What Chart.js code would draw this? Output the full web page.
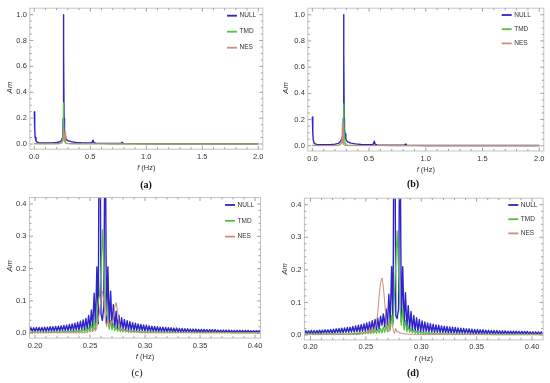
<!DOCTYPE html>
<html>
<head>
<meta charset="utf-8">
<script src="https://cdn.jsdelivr.net/npm/chart.js@4.4.0/dist/chart.umd.min.js"></script>
<style>
  body { margin: 0; background: #fff; width: 550px; height: 383px; position: relative; overflow: hidden; }
  canvas { position: absolute; }
  .cap { position: absolute; font-family: "Liberation Serif", "Times New Roman", serif; font-size: 10px;
         line-height: 10px; font-weight: bold; color: #111; transform: translateX(-50%); }
</style>
</head>
<body>
<canvas id="pa" width="275" height="190" style="left:0;top:0"></canvas>
<canvas id="pb" width="275" height="190" style="left:275px;top:0"></canvas>
<canvas id="pc" width="275" height="193" style="left:0;top:190px"></canvas>
<canvas id="pd" width="275" height="193" style="left:275px;top:190px"></canvas>
<div class="cap" style="left:146px;top:180px">(a)</div>
<div class="cap" style="left:413px;top:179px">(b)</div>
<div class="cap" style="left:137px;top:368px;font-weight:normal">(c)</div>
<div class="cap" style="left:413px;top:368px">(d)</div>
<script>
const seriesNames = ["NULL", "TMD", "NES"];
const seriesColors = ["#2e24c8", "#52c23a", "#cc8d7c"];
const seriesWidths = [1.4, 1.2, 1.0];
const yTitle = "Am";
const xTitleVar = "f", xTitleUnit = " (Hz)";

// (a) whole spectrum, case 1
const freqA = [0, 0.004, 0.008, 0.015, 0.025, 0.04, 0.08, 0.12, 0.16, 0.2,
  0.23, 0.245, 0.252, 0.256, 0.2585, 0.2605, 0.263, 0.266, 0.27, 0.275,
  0.28, 0.29, 0.3, 0.33, 0.37, 0.42, 0.47, 0.5, 0.515, 0.524,
  0.532, 0.55, 0.6, 0.7, 0.77, 0.785, 0.795, 0.9, 1.0, 1.5, 2.0];
const nullA = [0.25, 0.12, 0.05, 0.025, 0.015, 0.01, 0.008, 0.008, 0.009, 0.012,
  0.018, 0.03, 0.05, 0.1, 0.2, 1.0, 0.72, 0.2, 0.09, 0.06,
  0.045, 0.032, 0.025, 0.018, 0.013, 0.01, 0.008, 0.009, 0.012, 0.03,
  0.01, 0.006, 0.005, 0.004, 0.004, 0.014, 0.004, 0.003, 0.002, 0.002, 0.002];
const tmdA = [0.004, 0.003, 0.003, 0.003, 0.002, 0.002, 0.002, 0.002, 0.002, 0.003,
  0.004, 0.012, 0.03, 0.06, 0.12, 0.32, 0.2, 0.06, 0.025, 0.012,
  0.007, 0.005, 0.004, 0.003, 0.003, 0.002, 0.002, 0.002, 0.002, 0.002,
  0.002, 0.002, 0.002, 0.001, 0.001, 0.001, 0.001, 0.001, 0.001, 0.001, 0.001];
const nesA = [0.002, 0.002, 0.001, 0.001, 0.001, 0.001, 0.001, 0.001, 0.001, 0.001,
  0.002, 0.006, 0.02, 0.04, 0.07, 0.13, 0.1, 0.04, 0.06, 0.095,
  0.012, 0.004, 0.002, 0.002, 0.001, 0.001, 0.001, 0.001, 0.001, 0.001,
  0.001, 0.001, 0.001, 0.001, 0.001, 0.001, 0.001, 0.001, 0.001, 0.001, 0.001];

// (b) whole spectrum, case 2
const freqB = [0, 0.004, 0.008, 0.015, 0.025, 0.04, 0.08, 0.12, 0.16, 0.2,
  0.23, 0.25, 0.26, 0.265, 0.27, 0.2735, 0.2758, 0.278, 0.2808, 0.2835,
  0.288, 0.295, 0.31, 0.34, 0.38, 0.43, 0.48, 0.52, 0.538, 0.546,
  0.553, 0.57, 0.62, 0.7, 0.81, 0.823, 0.832, 0.9, 1.0, 1.5, 2.0];
const nullB = [0.22, 0.1, 0.045, 0.022, 0.014, 0.01, 0.008, 0.008, 0.009, 0.012,
  0.018, 0.035, 0.055, 0.07, 0.1, 0.21, 1.0, 0.7, 0.21, 0.13,
  0.09, 0.05, 0.03, 0.02, 0.014, 0.01, 0.008, 0.008, 0.012, 0.035,
  0.012, 0.006, 0.005, 0.004, 0.004, 0.013, 0.004, 0.003, 0.002, 0.002, 0.002];
const tmdB = [0.004, 0.003, 0.003, 0.003, 0.002, 0.002, 0.002, 0.002, 0.002, 0.003,
  0.004, 0.012, 0.02, 0.025, 0.03, 0.06, 0.12, 0.32, 0.09, 0.08,
  0.02, 0.008, 0.005, 0.004, 0.003, 0.002, 0.002, 0.002, 0.002, 0.002,
  0.002, 0.002, 0.002, 0.001, 0.001, 0.001, 0.001, 0.001, 0.001, 0.001, 0.001];
const nesB = [0.002, 0.002, 0.001, 0.001, 0.001, 0.001, 0.001, 0.001, 0.001, 0.001,
  0.002, 0.01, 0.03, 0.175, 0.02, 0.04, 0.005, 0.01, 0.004, 0.003,
  0.002, 0.002, 0.001, 0.001, 0.001, 0.001, 0.001, 0.001, 0.001, 0.001,
  0.001, 0.001, 0.001, 0.001, 0.001, 0.001, 0.001, 0.001, 0.001, 0.001, 0.001];

// (c), (d) zoom on the main peak, one value per FFT bin
const binStep = 0.00125;
const binStartC = 0.195;
const binStartD = 0.1945;

const nullC = [
  0.006, 0.017, 0.006, 0.017, 0.006, 0.018, 0.006, 0.018, 0.006, 0.018,
  0.006, 0.019, 0.006, 0.019, 0.007, 0.020, 0.007, 0.020, 0.007, 0.021,
  0.007, 0.022, 0.007, 0.023, 0.008, 0.024, 0.008, 0.025, 0.008, 0.027,
  0.009, 0.029, 0.009, 0.031, 0.010, 0.034, 0.010, 0.037, 0.011, 0.041,
  0.012, 0.046, 0.013, 0.055, 0.015, 0.072, 0.018, 0.124, 0.022, 0.205,
  0.030, 1.000, 0.060, 0.040, 0.080, 0.720, 0.030, 0.205, 0.022, 0.130,
  0.018, 0.088, 0.016, 0.068, 0.014, 0.056, 0.013, 0.048, 0.012, 0.043,
  0.011, 0.039, 0.010, 0.036, 0.010, 0.033, 0.009, 0.031, 0.009, 0.029,
  0.008, 0.027, 0.008, 0.026, 0.007, 0.025, 0.007, 0.023, 0.006, 0.022,
  0.006, 0.021, 0.006, 0.020, 0.005, 0.019, 0.005, 0.019, 0.005, 0.018,
  0.005, 0.017, 0.005, 0.017, 0.004, 0.016, 0.004, 0.016, 0.004, 0.015,
  0.004, 0.015, 0.004, 0.014, 0.004, 0.014, 0.004, 0.013, 0.003, 0.013,
  0.003, 0.013, 0.003, 0.012, 0.003, 0.012, 0.003, 0.012, 0.003, 0.011,
  0.003, 0.011, 0.003, 0.011, 0.003, 0.011, 0.003, 0.010, 0.003, 0.010,
  0.003, 0.010, 0.003, 0.010, 0.003, 0.010, 0.003, 0.009, 0.003, 0.009,
  0.003, 0.009, 0.003, 0.009, 0.003, 0.009, 0.003, 0.009, 0.003, 0.009,
  0.003, 0.008, 0.003, 0.008, 0.003, 0.008, 0.003, 0.008, 0.003];
const tmdC = [
  0.002, 0.004, 0.002, 0.004, 0.002, 0.004, 0.002, 0.004, 0.002, 0.004,
  0.002, 0.004, 0.002, 0.004, 0.002, 0.005, 0.002, 0.005, 0.002, 0.005,
  0.002, 0.005, 0.002, 0.005, 0.003, 0.006, 0.003, 0.006, 0.003, 0.006,
  0.003, 0.007, 0.003, 0.007, 0.003, 0.008, 0.003, 0.009, 0.004, 0.011,
  0.004, 0.014, 0.005, 0.018, 0.006, 0.026, 0.008, 0.040, 0.012, 0.060,
  0.100, 0.120, 0.200, 0.320, 0.200, 0.130, 0.060, 0.045, 0.012, 0.040,
  0.010, 0.030, 0.008, 0.022, 0.006, 0.017, 0.005, 0.013, 0.004, 0.011,
  0.004, 0.009, 0.003, 0.008, 0.003, 0.007, 0.003, 0.007, 0.003, 0.006,
  0.003, 0.006, 0.002, 0.006, 0.002, 0.005, 0.002, 0.005, 0.002, 0.005,
  0.002, 0.005, 0.002, 0.004, 0.002, 0.004, 0.002, 0.004, 0.002, 0.004,
  0.002, 0.004, 0.002, 0.004, 0.002, 0.004, 0.002, 0.003, 0.002, 0.003,
  0.002, 0.003, 0.002, 0.003, 0.002, 0.003, 0.002, 0.003, 0.002, 0.003,
  0.001, 0.003, 0.001, 0.003, 0.001, 0.003, 0.001, 0.003, 0.001, 0.003,
  0.001, 0.003, 0.001, 0.003, 0.001, 0.003, 0.001, 0.003, 0.001, 0.003,
  0.001, 0.003, 0.001, 0.003, 0.001, 0.003, 0.001, 0.002, 0.001, 0.002,
  0.001, 0.002, 0.001, 0.002, 0.001, 0.002, 0.001, 0.002, 0.001, 0.002,
  0.001, 0.002, 0.001, 0.002, 0.001, 0.002, 0.001, 0.002, 0.001];
const nesC = [
  0.001, 0.002, 0.001, 0.002, 0.001, 0.002, 0.001, 0.002, 0.001, 0.002,
  0.001, 0.002, 0.001, 0.002, 0.001, 0.002, 0.001, 0.002, 0.001, 0.002,
  0.001, 0.002, 0.001, 0.002, 0.001, 0.002, 0.001, 0.002, 0.001, 0.002,
  0.001, 0.002, 0.001, 0.002, 0.001, 0.002, 0.001, 0.002, 0.001, 0.002,
  0.001, 0.004, 0.002, 0.006, 0.003, 0.010, 0.004, 0.018, 0.006, 0.020,
  0.040, 0.070, 0.110, 0.130, 0.100, 0.050, 0.020, 0.040, 0.020, 0.040,
  0.030, 0.050, 0.080, 0.095, 0.070, 0.035, 0.012, 0.020, 0.006, 0.012,
  0.004, 0.008, 0.003, 0.006, 0.002, 0.005, 0.002, 0.004, 0.002, 0.004,
  0.001, 0.002, 0.001, 0.002, 0.001, 0.002, 0.001, 0.002, 0.001, 0.002,
  0.001, 0.002, 0.001, 0.002, 0.001, 0.002, 0.001, 0.002, 0.001, 0.002,
  0.001, 0.002, 0.001, 0.002, 0.001, 0.002, 0.001, 0.002, 0.001, 0.002,
  0.001, 0.002, 0.001, 0.002, 0.001, 0.002, 0.001, 0.002, 0.001, 0.002,
  0.001, 0.002, 0.001, 0.002, 0.001, 0.002, 0.001, 0.002, 0.001, 0.002,
  0.001, 0.002, 0.001, 0.002, 0.001, 0.002, 0.001, 0.002, 0.001, 0.002,
  0.001, 0.002, 0.001, 0.002, 0.001, 0.002, 0.001, 0.002, 0.001, 0.002,
  0.001, 0.002, 0.001, 0.002, 0.001, 0.002, 0.001, 0.002, 0.001, 0.002,
  0.001, 0.002, 0.001, 0.002, 0.001, 0.002, 0.001, 0.002, 0.001];

const nullD = [
  0.005, 0.013, 0.005, 0.013, 0.005, 0.014, 0.005, 0.014, 0.005, 0.014,
  0.005, 0.015, 0.005, 0.015, 0.006, 0.016, 0.006, 0.016, 0.006, 0.017,
  0.006, 0.018, 0.006, 0.019, 0.007, 0.020, 0.007, 0.021, 0.007, 0.022,
  0.008, 0.023, 0.008, 0.024, 0.009, 0.026, 0.009, 0.028, 0.010, 0.030,
  0.010, 0.032, 0.011, 0.034, 0.012, 0.037, 0.013, 0.040, 0.014, 0.044,
  0.015, 0.048, 0.016, 0.052, 0.018, 0.058, 0.030, 0.065, 0.025, 0.080,
  0.030, 0.125, 0.035, 0.210, 0.040, 1.000, 0.060, 0.050, 0.080, 0.700,
  0.040, 0.210, 0.030, 0.130, 0.022, 0.090, 0.018, 0.072, 0.015, 0.060,
  0.013, 0.053, 0.012, 0.048, 0.011, 0.043, 0.010, 0.040, 0.010, 0.037,
  0.009, 0.035, 0.009, 0.033, 0.008, 0.031, 0.008, 0.030, 0.007, 0.028,
  0.007, 0.027, 0.007, 0.026, 0.006, 0.025, 0.006, 0.024, 0.006, 0.023,
  0.005, 0.022, 0.005, 0.021, 0.005, 0.020, 0.005, 0.019, 0.005, 0.019,
  0.004, 0.018, 0.004, 0.017, 0.004, 0.017, 0.004, 0.016, 0.004, 0.016,
  0.004, 0.015, 0.004, 0.015, 0.004, 0.014, 0.003, 0.014, 0.003, 0.014,
  0.003, 0.013, 0.003, 0.013, 0.003, 0.013, 0.003, 0.012, 0.003, 0.012,
  0.003, 0.012, 0.003, 0.012, 0.003, 0.011, 0.003, 0.011, 0.003, 0.011,
  0.003, 0.011, 0.003, 0.010, 0.003, 0.010, 0.003, 0.010, 0.003, 0.010,
  0.003, 0.010, 0.003];
const tmdD = [
  0.002, 0.004, 0.002, 0.004, 0.002, 0.004, 0.002, 0.004, 0.002, 0.004,
  0.002, 0.004, 0.002, 0.004, 0.002, 0.004, 0.002, 0.004, 0.002, 0.004,
  0.002, 0.004, 0.002, 0.004, 0.002, 0.004, 0.002, 0.004, 0.002, 0.004,
  0.002, 0.004, 0.002, 0.005, 0.002, 0.005, 0.003, 0.006, 0.003, 0.007,
  0.003, 0.008, 0.003, 0.009, 0.004, 0.010, 0.004, 0.012, 0.004, 0.014,
  0.005, 0.016, 0.005, 0.018, 0.006, 0.020, 0.006, 0.025, 0.008, 0.030,
  0.010, 0.040, 0.015, 0.060, 0.030, 0.120, 0.220, 0.320, 0.200, 0.090,
  0.030, 0.080, 0.015, 0.045, 0.010, 0.028, 0.008, 0.020, 0.006, 0.015,
  0.005, 0.012, 0.004, 0.010, 0.004, 0.009, 0.003, 0.008, 0.003, 0.007,
  0.003, 0.006, 0.002, 0.006, 0.002, 0.005, 0.002, 0.005, 0.002, 0.005,
  0.002, 0.004, 0.002, 0.004, 0.002, 0.004, 0.002, 0.004, 0.002, 0.004,
  0.002, 0.003, 0.002, 0.003, 0.002, 0.003, 0.002, 0.003, 0.002, 0.003,
  0.001, 0.003, 0.001, 0.003, 0.001, 0.003, 0.001, 0.003, 0.001, 0.003,
  0.001, 0.003, 0.001, 0.003, 0.001, 0.002, 0.001, 0.002, 0.001, 0.002,
  0.001, 0.002, 0.001, 0.002, 0.001, 0.002, 0.001, 0.002, 0.001, 0.002,
  0.001, 0.002, 0.001, 0.002, 0.001, 0.002, 0.001, 0.002, 0.001, 0.002,
  0.001, 0.002, 0.001, 0.002, 0.001, 0.002, 0.001, 0.002, 0.001, 0.002,
  0.001, 0.002, 0.001];
const nesD = [
  0.001, 0.002, 0.001, 0.002, 0.001, 0.002, 0.001, 0.002, 0.001, 0.002,
  0.001, 0.002, 0.001, 0.002, 0.001, 0.002, 0.001, 0.002, 0.001, 0.002,
  0.001, 0.002, 0.001, 0.002, 0.001, 0.002, 0.001, 0.002, 0.001, 0.002,
  0.001, 0.002, 0.001, 0.002, 0.001, 0.002, 0.001, 0.002, 0.001, 0.002,
  0.002, 0.005, 0.002, 0.008, 0.003, 0.012, 0.004, 0.020, 0.006, 0.025,
  0.010, 0.020, 0.035, 0.070, 0.120, 0.160, 0.175, 0.150, 0.100, 0.050,
  0.020, 0.010, 0.030, 0.040, 0.020, 0.005, 0.020, 0.008, 0.012, 0.004,
  0.008, 0.003, 0.006, 0.002, 0.004, 0.002, 0.003, 0.001, 0.003, 0.001,
  0.002, 0.001, 0.002, 0.001, 0.002, 0.001, 0.002, 0.001, 0.002, 0.001,
  0.002, 0.001, 0.002, 0.001, 0.002, 0.001, 0.002, 0.001, 0.002, 0.001,
  0.002, 0.001, 0.002, 0.001, 0.002, 0.001, 0.002, 0.001, 0.002, 0.001,
  0.002, 0.001, 0.002, 0.001, 0.002, 0.001, 0.002, 0.001, 0.002, 0.001,
  0.002, 0.001, 0.002, 0.001, 0.002, 0.001, 0.002, 0.001, 0.002, 0.001,
  0.002, 0.001, 0.002, 0.001, 0.002, 0.001, 0.002, 0.001, 0.002, 0.001,
  0.002, 0.001, 0.002, 0.001, 0.002, 0.001, 0.002, 0.001, 0.002, 0.001,
  0.002, 0.001, 0.002, 0.001, 0.002, 0.001, 0.002, 0.001, 0.002, 0.001,
  0.002, 0.001, 0.002, 0.001, 0.002, 0.001, 0.002, 0.001, 0.002, 0.001,
  0.002, 0.001, 0.002];

// tick values
const xTicksWide = [0, 0.5, 1.0, 1.5, 2.0];
const yTicksWide = [0, 0.2, 0.4, 0.6, 0.8, 1.0];
const xTicksZoom = [0.20, 0.25, 0.30, 0.35, 0.40];
const yTicksZoom = [0, 0.1, 0.2, 0.3, 0.4];

const FONT = '"Liberation Sans", Arial, sans-serif';
const tickFont = { family: FONT, size: 7.5 };

// bin frequencies of the zoomed spectra
function binFreqs(start, n) {
  return Array.from({ length: n }, (_, i) => +(start + i * binStep).toFixed(5));
}

function minorsBetween(ticks, n) {
  let out = [];
  for (let i = 0; i < ticks.length - 1; i++) {
    let d = (ticks[i + 1] - ticks[i]) / n;
    for (let j = 1; j < n; j++) out.push(ticks[i] + j * d);
  }
  return out;
}

// frame, inward ticks, legend and axis titles
function decorFor(o) {
  return {
    id: 'decor',
    afterDraw(chart) {
      const { ctx, chartArea: a, scales: { x, y } } = chart;
      ctx.save();
      ctx.strokeStyle = '#c4c4c4';
      ctx.lineWidth = 1;
      ctx.strokeRect(a.left, a.top, a.width, a.height);

      ctx.strokeStyle = '#a0a0a0';
      ctx.beginPath();
      const xt = (v, len) => {
        const px = x.getPixelForValue(v);
        ctx.moveTo(px, a.bottom); ctx.lineTo(px, a.bottom - len);
        ctx.moveTo(px, a.top); ctx.lineTo(px, a.top + len);
      };
      const yt = (v, len) => {
        const py = y.getPixelForValue(v);
        ctx.moveTo(a.left, py); ctx.lineTo(a.left + len, py);
        ctx.moveTo(a.right, py); ctx.lineTo(a.right - len, py);
      };
      o.xTicks.forEach(v => xt(v, 3.5));
      minorsBetween(o.xTicks, o.xMinor).forEach(v => xt(v, 2));
      o.yTicks.forEach(v => yt(v, 3.5));
      minorsBetween(o.yTicks, o.yMinor).forEach(v => yt(v, 2));
      ctx.stroke();

      // legend inside the plot
      ctx.font = '6.5px ' + FONT;
      ctx.textBaseline = 'middle';
      ctx.textAlign = 'left';
      chart.data.datasets.forEach((ds, i) => {
        const ly = o.legY + i * o.legDy;
        ctx.strokeStyle = ds.borderColor;
        ctx.lineWidth = 1.8;
        ctx.beginPath();
        ctx.moveTo(o.legX, ly);
        ctx.lineTo(o.legX + 10, ly);
        ctx.stroke();
        ctx.fillStyle = '#333';
        ctx.fillText(ds.label, o.legX + 12.5, ly);
      });

      // axis titles
      ctx.fillStyle = '#333';
      ctx.save();
      ctx.translate(a.left - o.yTitleDx, o.yTitleY);
      ctx.rotate(-Math.PI / 2);
      ctx.textAlign = 'center';
      ctx.font = 'italic 7.5px ' + FONT;
      ctx.fillText(yTitle, 0, 0);
      ctx.restore();

      const f1 = 'italic 7.5px ' + FONT, f2 = '7.5px ' + FONT;
      ctx.font = f1; const w1 = ctx.measureText(xTitleVar).width;
      ctx.font = f2; const w2 = ctx.measureText(xTitleUnit).width;
      const x0 = (a.left + a.right) / 2 - (w1 + w2) / 2;
      const ty = a.bottom + 18.7;
      ctx.textAlign = 'left';
      ctx.font = f1; ctx.fillText(xTitleVar, x0, ty);
      ctx.font = f2; ctx.fillText(xTitleUnit, x0 + w1, ty);
      ctx.restore();
    }
  };
}

function buildPanel(id, freqs, series, o) {
  const canvas = document.getElementById(id);
  const W = canvas.width, H = canvas.height;
  return new Chart(canvas, {
    type: 'line',
    data: {
      datasets: series.map((vals, i) => ({
        label: seriesNames[i],
        data: vals.map((v, j) => ({ x: freqs[j], y: v })),
        borderColor: seriesColors[i],
        borderWidth: seriesWidths[i],
        borderJoinStyle: 'round',
        pointRadius: 0,
        tension: 0,
        fill: false,
        order: 3 - i
      }))
    },
    options: {
      responsive: false,
      animation: false,
      events: [],
      layout: { padding: { left: 0, top: o.area.t, right: W - o.area.r, bottom: 0 } },
      plugins: { legend: { display: false }, tooltip: { enabled: false } },
      scales: {
        x: {
          type: 'linear', min: o.xMin, max: o.xMax,
          grid: { display: false, drawTicks: false, tickLength: 0 }, border: { display: false },
          afterBuildTicks: s => { s.ticks = o.xTicks.map(v => ({ value: v })); },
          afterFit: s => { s.height = H - o.area.b; },
          ticks: { padding: 3, color: '#333', font: tickFont, maxRotation: 0, autoSkip: false,
                   callback: v => v.toFixed(o.xDec) }
        },
        y: {
          type: 'linear', min: o.yMin, max: o.yMax,
          grid: { display: false, drawTicks: false, tickLength: 0 }, border: { display: false },
          afterBuildTicks: s => { s.ticks = o.yTicks.map(v => ({ value: v })); },
          afterFit: s => { s.width = o.area.l; },
          ticks: { padding: 3, color: '#333', font: tickFont, autoSkip: false,
                   callback: v => v.toFixed(1) }
        }
      }
    },
    plugins: [decorFor(o)]
  });
}

buildPanel('pa', freqA, [nullA, tmdA, nesA], {
  area: { l: 29.8, t: 8.2, r: 262.8, b: 149.2 },
  xMin: -0.04, xMax: 2.04, yMin: -0.04, yMax: 1.05,
  xTicks: xTicksWide, yTicks: yTicksWide, xDec: 1, xMinor: 5, yMinor: 4,
  legX: 227, legY: 15.7, legDy: 16, yTitleDx: 19.5, yTitleY: 87.5
});
buildPanel('pb', freqB, [nullB, tmdB, nesB], {
  area: { l: 32.8, t: 8.2, r: 268.8, b: 151 },
  xMin: -0.04, xMax: 2.04, yMin: -0.04, yMax: 1.05,
  xTicks: xTicksWide, yTicks: yTicksWide, xDec: 1, xMinor: 5, yMinor: 4,
  legX: 226.7, legY: 15, legDy: 14.2, yTitleDx: 22, yTitleY: 88
});
buildPanel('pc', binFreqs(binStartC, nullC.length), [nullC, tmdC, nesC], {
  area: { l: 29.5, t: 7.5, r: 260.5, b: 148.1 },
  xMin: 0.195, xMax: 0.405, yMin: -0.015, yMax: 0.42,
  xTicks: xTicksZoom, yTicks: yTicksZoom, xDec: 2, xMinor: 5, yMinor: 5,
  legX: 225, legY: 15, legDy: 15.8, yTitleDx: 19.5, yTitleY: 75.8
});
buildPanel('pd', binFreqs(binStartD, nullD.length), [nullD, tmdD, nesD], {
  area: { l: 29.4, t: 8.2, r: 268.1, b: 149.9 },
  xMin: 0.1945, xMax: 0.41, yMin: -0.015, yMax: 0.42,
  xTicks: xTicksZoom, yTicks: yTicksZoom, xDec: 2, xMinor: 5, yMinor: 5,
  legX: 233.3, legY: 15, legDy: 14.2, yTitleDx: 19.3, yTitleY: 78.8
});
</script>
</body>
</html>
